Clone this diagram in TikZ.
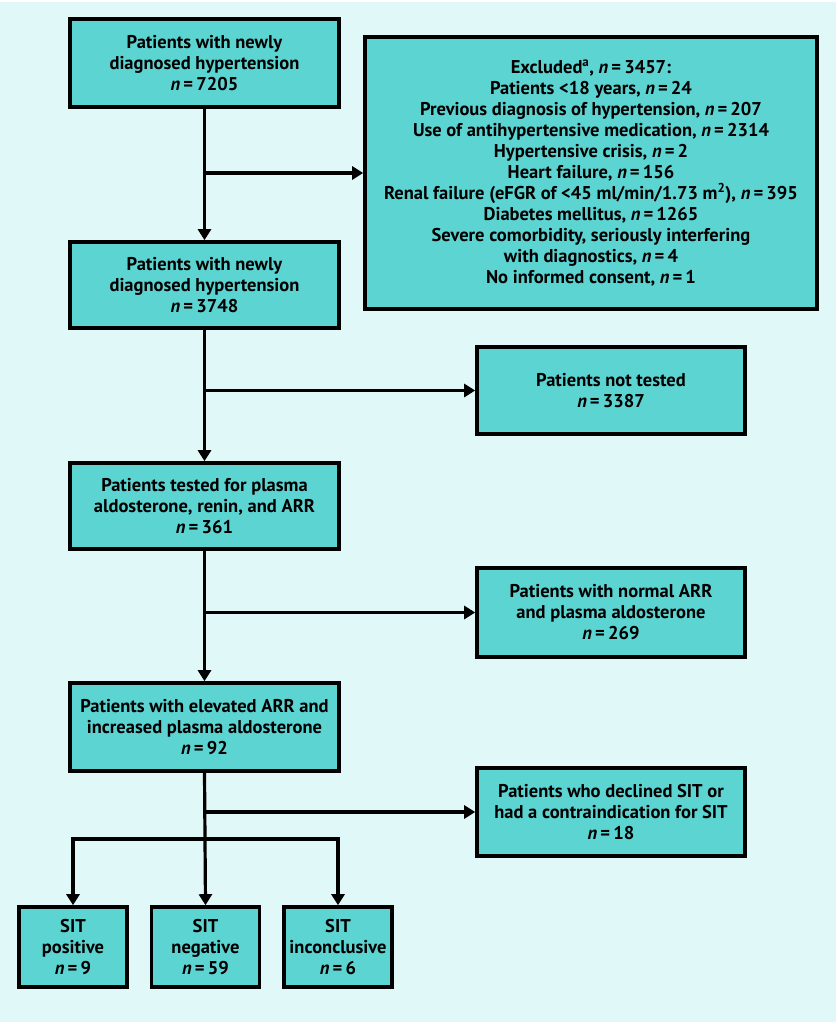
\documentclass[tikz,border=0pt]{standalone}
\usepackage{fontspec}
\setmainfont{PT Sans}
\usetikzlibrary{arrows.meta}
\definecolor{bgcyan}{HTML}{E1F8F8}
\definecolor{boxteal}{HTML}{5BD4D2}
\newcommand{\nn}[1]{\textit{n}\,=\,#1}

\begin{document}
\begin{tikzpicture}[x=1pt,y=-1pt]
        \tikzstyle{every node}=[font=\bfseries\fontsize{18.5}{21}\selectfont, align=center, inner sep=0pt]
        \tikzstyle{flowbox}=[rectangle, draw=black, line width=3.6pt, fill=boxteal]
        \tikzstyle{arr}=[line width=3.2pt, -{Triangle[length=11pt,width=13pt]}]
        % background
        \fill[white] (0,0) rectangle (837,1024);
        \fill[bgcyan] (0,2) rectangle (836,1022);
        % main column
        \node[flowbox, minimum width=269pt, minimum height=88pt] (start) at (204.5,63)
            {Patients with newly\\ diagnosed hypertension\\ \nn{7205}};
        \node[flowbox, minimum width=269pt, minimum height=86pt] (eligible) at (204.5,285)
            {Patients with newly\\ diagnosed hypertension\\ \nn{3748}};
        \node[flowbox, minimum width=269pt, minimum height=86pt] (tested) at (204.5,506)
            {Patients tested for plasma\\ aldosterone, renin, and ARR\\ \nn{361}};
        \node[flowbox, minimum width=269pt, minimum height=88pt] (elevated) at (204.5,727)
            {Patients with elevated ARR and\\ increased plasma aldosterone\\ \nn{92}};
        % side boxes
        \node[flowbox, minimum width=452pt, minimum height=272pt] (excluded) at (591,173)
            {Excluded\textsuperscript{a}, \nn{3457}:\\
             Patients <18 years, \nn{24}\\
             Previous diagnosis of hypertension, \nn{207}\\
             Use of antihypertensive medication, \nn{2314}\\
             Hypertensive crisis, \nn{2}\\
             Heart failure, \nn{156}\\
             Renal failure (eFGR of <45 ml/min/1.73 m\textsuperscript{2}), \nn{395}\\
             Diabetes mellitus, \nn{1265}\\
             Severe comorbidity, seriously interfering\\
             with diagnostics, \nn{4}\\
             No informed consent, \nn{1}};
        \node[flowbox, minimum width=268pt, minimum height=87pt] (nottested) at (611,390.5)
            {Patients not tested\\ \nn{3387}};
        \node[flowbox, minimum width=268pt, minimum height=89pt] (normal) at (611,612.5)
            {Patients with normal ARR\\ and plasma aldosterone\\ \nn{269}};
        \node[flowbox, minimum width=268pt, minimum height=88pt] (declined) at (611,812)
            {Patients who declined SIT or\\ had a contraindication for SIT\\ \nn{18}};
        % SIT outcomes
        \node[flowbox, minimum width=108pt, minimum height=80pt] (sitpos) at (73,947)
            {SIT\\ positive\\ \nn{9}};
        \node[flowbox, minimum width=108pt, minimum height=80pt] (sitneg) at (205.5,947)
            {SIT\\ negative\\ \nn{59}};
        \node[flowbox, minimum width=108pt, minimum height=80pt] (sitinc) at (338,947)
            {SIT\\ inconclusive\\ \nn{6}};
        % connectors
        \coordinate (b1) at (start.south |- excluded.west);
        \coordinate (b2) at (eligible.south |- nottested.west);
        \coordinate (b3) at (tested.south |- normal.west);
        \coordinate (b4) at (elevated.south |- declined.west);
        \coordinate (bus) at (204.5,839);
        \draw[arr] (start.south) -- (eligible.north);
        \draw[arr] (b1) -- (excluded.west);
        \draw[arr] (eligible.south) -- (tested.north);
        \draw[arr] (b2) -- (nottested.west);
        \draw[arr] (tested.south) -- (elevated.north);
        \draw[arr] (b3) -- (normal.west);
        \draw[arr] (elevated.south) -- (sitneg.north);
        \draw[arr] (b4) -- (declined.west);
        \draw[arr] (bus) -| (sitpos.north);
        \draw[arr] (bus) -| (sitinc.north);
\end{tikzpicture}
\end{document}
